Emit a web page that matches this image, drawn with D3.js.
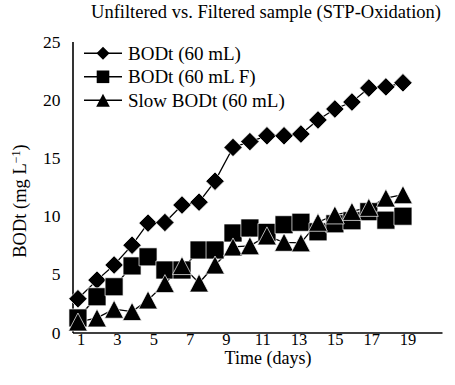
<!DOCTYPE html>
<html>
<head>
<meta charset="utf-8">
<script src="https://cdn.jsdelivr.net/npm/d3@7/dist/d3.min.js"></script>
<style>
  html, body { margin: 0; padding: 0; background: #fff; }
  svg { display: block; }
  svg text { font-family: "Liberation Serif", "Times New Roman", Times, "DejaVu Serif", serif !important; fill: #000; }
</style>
</head>
<body>
<svg id="chart" width="455" height="385" font-family="Liberation Serif, Times New Roman, serif"></svg>
<script>
// ---- data ----
const days = [0.85, 1.90, 2.84, 3.83, 4.71, 5.64, 6.58, 7.52, 8.40, 9.39,
              10.32, 11.26, 12.20, 13.13, 14.07, 15.00, 15.94, 16.87, 17.81, 18.75];
const bodt = [2.9, 4.5, 5.8, 7.5, 9.4, 9.45, 10.95, 11.2, 13.0, 15.9,
              16.4, 16.9, 16.9, 17.05, 18.26, 19.2, 19.8, 21.0, 21.1, 21.45];
const bodtF = [1.25, 3.07, 3.93, 5.72, 6.5, 5.37, 5.37, 7.09, 7.09, 8.55,
               8.98, 8.6, 9.26, 9.47, 8.65, 9.34, 9.6, 10.38, 9.65, 9.99];
const slowBodt = [0.9, 1.25, 2.0, 1.8, 2.8, 4.2, 5.75, 4.25, 5.8, 7.35,
                  7.45, 8.3, 7.75, 7.7, 9.47, 10.1, 10.4, 10.75, 11.55, 11.84];
const seriesNames = ["BODt (60 mL)", "BODt (60 mL F)", "Slow BODt (60 mL)"];
const xTicks = [1, 3, 5, 7, 9, 11, 13, 15, 17, 19];
const yTicks = [0, 5, 10, 15, 20, 25];
const titleText = "Unfiltered vs. Filtered sample (STP-Oxidation)";
const xLabel = "Time (days)";

// ---- layout ----
const FONT = "'Liberation Serif', 'Times New Roman', Times, serif";
const svg = d3.select("#chart");
const x = d3.scaleLinear().domain([0.55, 20.9]).range([72.5, 442]);
const y = d3.scaleLinear().domain([0, 25]).range([332.5, 41.5]);

const shapes = {
  diamond: r => `M0,${-r}L${r},0L0,${r}L${-r},0Z`,
  square: r => `M${-r},${-r}H${r}V${r}H${-r}Z`,
  triangle: r => `M0,${-r}L${r * 1.05},${r}L${-r * 1.05},${r}Z`
};
const series = [
  { name: seriesNames[0], values: bodt, shape: "diamond", r: 9.2, lr: 6.5 },
  { name: seriesNames[1], values: bodtF, shape: "square", r: 9, lr: 6.3 },
  { name: seriesNames[2], values: slowBodt, shape: "triangle", r: 9, lr: 6.5 }
];

// title
svg.append("text").attr("x", 266).attr("y", 18)
  .attr("text-anchor", "middle").style("font-family", FONT).style("font-size", "18.5px").text(titleText);

// axes
const xAxis = svg.append("g").attr("transform", `translate(0,${y(0)})`)
  .call(d3.axisBottom(x).tickValues(xTicks).tickSize(0).tickPadding(0.5).tickFormat(d3.format("d")));
const yAxis = svg.append("g").attr("transform", `translate(${x.range()[0]},0)`)
  .call(d3.axisLeft(y).tickValues(yTicks).tickSize(0).tickPadding(12).tickFormat(d3.format("d")));
[xAxis, yAxis].forEach(g => {
  g.attr("font-family", FONT).attr("font-size", null);
  g.select(".domain").attr("stroke", "#000").attr("stroke-width", 1.6);
});
xAxis.selectAll("text").style("font-family", FONT).style("font-size", "16.5px");
yAxis.selectAll("text").style("font-family", FONT).style("font-size", "17.5px");

// axis labels
svg.append("text").attr("x", 268).attr("y", 363.5)
  .attr("text-anchor", "middle").style("font-family", FONT).style("font-size", "18px").text(xLabel);
const yl = svg.append("text").attr("transform", "translate(26,201) rotate(-90)")
  .attr("text-anchor", "middle").style("font-family", FONT).style("font-size", "18.5px");
yl.append("tspan").text("BODt (mg L");
yl.append("tspan").attr("dy", "-0.5em").style("font-size", "12px").text("\u22121");
yl.append("tspan").attr("dy", "0.35em").text(")");

// series
const line = d3.line().x((d, i) => x(days[i])).y(d => y(d));
series.forEach(s => {
  svg.append("path").datum(s.values).attr("d", line)
    .attr("fill", "none").attr("stroke", "#000").attr("stroke-width", 1.3);
});
series.forEach(s => {
  svg.append("g").selectAll("path").data(s.values).join("path")
    .attr("transform", (d, i) => `translate(${x(days[i])},${y(d)})`)
    .attr("d", shapes[s.shape](s.r))
    .attr("fill", "#000").attr("stroke", "#fff").attr("stroke-width", 0.7);
});

// legend
const legend = svg.append("g");
series.forEach((s, i) => {
  const g = legend.append("g").attr("transform", `translate(0,${53.3 + i * 23.5})`);
  g.append("line").attr("x1", 84).attr("x2", 122).attr("y1", 0).attr("y2", 0)
    .attr("stroke", "#000").attr("stroke-width", 1.6);
  g.append("path").attr("transform", "translate(103,0)").attr("d", shapes[s.shape](s.lr)).attr("fill", "#000");
  g.append("text").attr("x", 128).attr("y", 6.3).style("font-family", FONT).style("font-size", "19px").text(s.name);
});
</script>
</body>
</html>
